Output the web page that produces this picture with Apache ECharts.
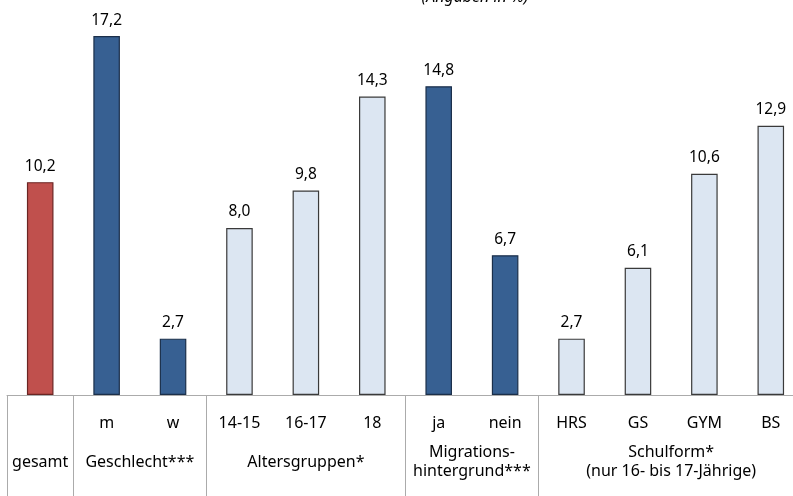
<!DOCTYPE html>
<html>
<head>
<meta charset="utf-8">
<script src="https://cdn.jsdelivr.net/npm/echarts@6/dist/echarts.min.js"></script>
<style>
html,body{margin:0;padding:0;background:#fff;overflow:hidden;}
#main{width:804px;height:496px;}
</style>
</head>
<body>
<div id="main"></div>
<script>
// ---- data ----
var categories = ['gesamt','m','w','14-15','16-17','18','ja','nein','HRS','GS','GYM','BS'];
var subLabels  = ['','m','w','14-15','16-17','18','ja','nein','HRS','GS','GYM','BS'];
var values     = [10.2, 17.2, 2.7, 8.0, 9.8, 14.3, 14.8, 6.7, 2.7, 6.1, 10.6, 12.9];
var barKinds   = ['total','dark','dark','light','light','light','dark','dark','light','light','light','light'];
var groupNames = ['gesamt','Geschlecht***','Altersgruppen*','Migrations-\nhintergrund***','Schulform*\n(nur 16- bis 17-Jährige)'];
var groupStart = [0, 1, 3, 6, 8];
var groupEnd   = [0, 2, 5, 7, 11];
var titleText  = '(Angaben in %)';

var styles = {
  total: {color:'#C0504D', borderColor:'#6B2523'},
  dark:  {color:'#376092', borderColor:'#1B2F4A'},
  light: {color:'#DCE6F2', borderColor:'#3A3A3A'}
};
var FONT = '"Noto Sans", "Open Sans", sans-serif';
var GRID_COLOR = '#ABABAB';

var chart = echarts.init(document.getElementById('main'), null, {renderer:'canvas'});
var data = values.map(function(v, i){
  var s = styles[barKinds[i]];
  return {value: v, itemStyle: {color: s.color, borderColor: s.borderColor, borderWidth: 1.2}};
});

chart.setOption({
  animation: false,
  backgroundColor: '#fff',
  grid: {left: 7, top: 0, right: 0, bottom: 101, containLabel: false},
  xAxis: {
    type: 'category',
    data: categories,
    axisLine: {show: true, lineStyle: {color: GRID_COLOR, width: 1}},
    axisTick: {show: false},
    axisLabel: {
      interval: 0, margin: 20,
      fontFamily: FONT, fontSize: 16, color: '#000',
      formatter: function(v, i){ return subLabels[i]; }
    }
  },
  yAxis: {type: 'value', min: 0, max: 18.93, show: false, splitLine: {show: false}},
  series: [{
    type: 'bar',
    data: data,
    barWidth: '40%',
    label: {
      show: true, position: 'top', distance: 8,
      fontFamily: FONT, fontSize: 15.5, color: '#000',
      formatter: function(p){ return p.value.toFixed(1).replace('.', ','); }
    }
  }]
});

// table lines and group labels derived from the category axis
var centers = categories.map(function(c){ return chart.convertToPixel({xAxisIndex: 0}, c); });
var step = centers[1] - centers[0];
var axisY = chart.convertToPixel({yAxisIndex: 0}, 0);
var H = chart.getHeight();
var graphics = [];
function vline(x){
  graphics.push({type:'line', silent:true, shape:{x1:x, y1:axisY, x2:x, y2:H},
    style:{stroke: GRID_COLOR, lineWidth: 1}});
}
vline(Math.round(centers[0] - step/2) + 0.5);
for (var g = 0; g < groupNames.length; g++) {
  var x0 = centers[groupStart[g]] - step/2;
  var x1 = centers[groupEnd[g]] + step/2;
  vline(Math.round(x1) + 0.5);
  graphics.push({type:'text', silent:true, x: (x0 + x1)/2, y: axisY + 67,
    style:{text: groupNames[g], fontFamily: FONT, fontSize: 16, fill:'#000',
      align:'center', verticalAlign:'middle', lineHeight: 19}});
}
graphics.push({type:'text', silent:true, x: 475, y: 5,
  style:{text: titleText, fontFamily: FONT, fontSize: 16, fontStyle:'italic', fill:'#000',
    align:'center', verticalAlign:'bottom'}});
chart.setOption({graphic: graphics});
</script>
</body>
</html>
